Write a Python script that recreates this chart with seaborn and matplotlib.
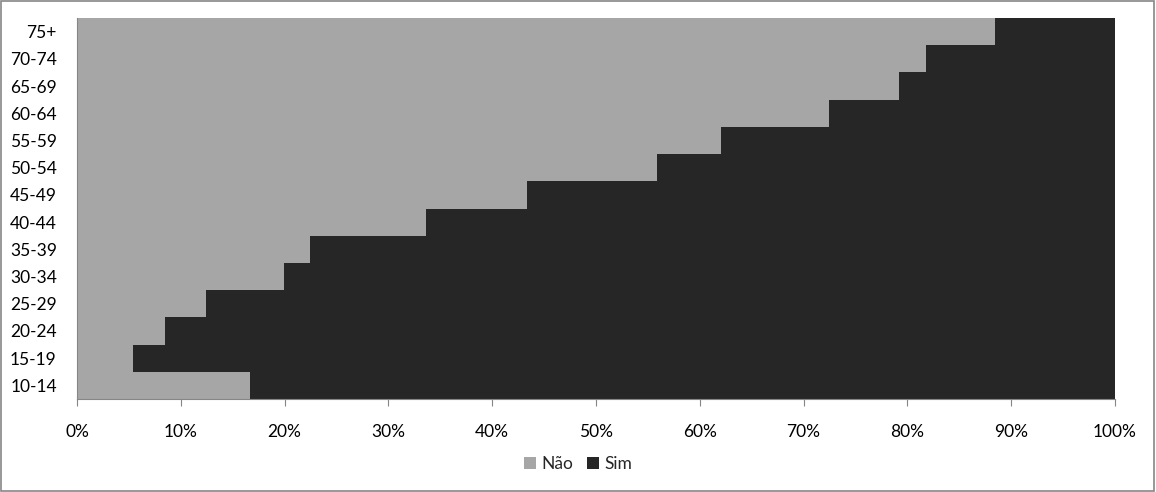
import matplotlib
matplotlib.use("Agg")
import matplotlib.pyplot as plt
import seaborn as sns
import pandas as pd
from matplotlib.patches import Rectangle, Patch
from matplotlib.ticker import FuncFormatter

age_groups = ["75+", "70-74", "65-69", "60-64", "55-59", "50-54", "45-49",
              "40-44", "35-39", "30-34", "25-29", "20-24", "15-19", "10-14"]
nao = [88.4, 81.8, 79.2, 72.4, 62.0, 55.9, 43.4, 33.6, 22.4, 19.9, 12.4, 8.5, 5.4, 16.7]
sim = [100 - v for v in nao]
series_names = ["Não", "Sim"]
colors = {"Não": "#A6A6A6", "Sim": "#262626"}

df = pd.DataFrame({"age": age_groups, "Não": nao, "Sim": sim})
df["total"] = df["Não"] + df["Sim"]

sns.set_style("white")
plt.rcParams["font.family"] = ["Lato", "DejaVu Sans"]

fig = plt.figure(figsize=(11.56, 4.92), dpi=100)
ax = fig.add_axes([77/1156, 1 - 399/492, (1115-77)/1156, (399-18)/492])

sns.barplot(data=df, y="age", x="total", order=age_groups, color=colors["Sim"],
            width=1.0, linewidth=0, ax=ax, orient="h")
sns.barplot(data=df, y="age", x="Não", order=age_groups, color=colors["Não"],
            width=1.0, linewidth=0, ax=ax, orient="h")

ax.set_xlim(0, 100)
ax.set_ylim(len(age_groups) - 0.5, -0.5)
ax.set_xticks(range(0, 101, 10))
ax.xaxis.set_major_formatter(FuncFormatter(lambda v, p: f"{int(v)}%"))
ax.set_xlabel("")
ax.set_ylabel("")
for s in ["top", "right"]:
    ax.spines[s].set_visible(False)
ax.spines["left"].set_color("#868686")
ax.spines["bottom"].set_color("#868686")
ax.tick_params(axis="x", which="major", length=5, color="#868686", direction="out",
               bottom=True, pad=13, labelsize=12.5, labelcolor="#000000")
ax.tick_params(axis="y", length=0, pad=14.5, labelsize=12.5, labelcolor="#000000")

handles = [Patch(facecolor=colors[n], edgecolor="none", label=n) for n in series_names]
fig.legend(handles=handles, loc="center", bbox_to_anchor=(0.5, 1 - 464/492), ncol=2,
           frameon=False, fontsize=12.5, handlelength=0.7, handleheight=0.7,
           handletextpad=0.3, columnspacing=0.8)

fig.patches.append(Rectangle((0.001, 0.002), 0.997, 0.995, transform=fig.transFigure,
                             fill=False, edgecolor="#868686", linewidth=1.2))

fig.savefig("out.png", dpi=100, facecolor="white")
